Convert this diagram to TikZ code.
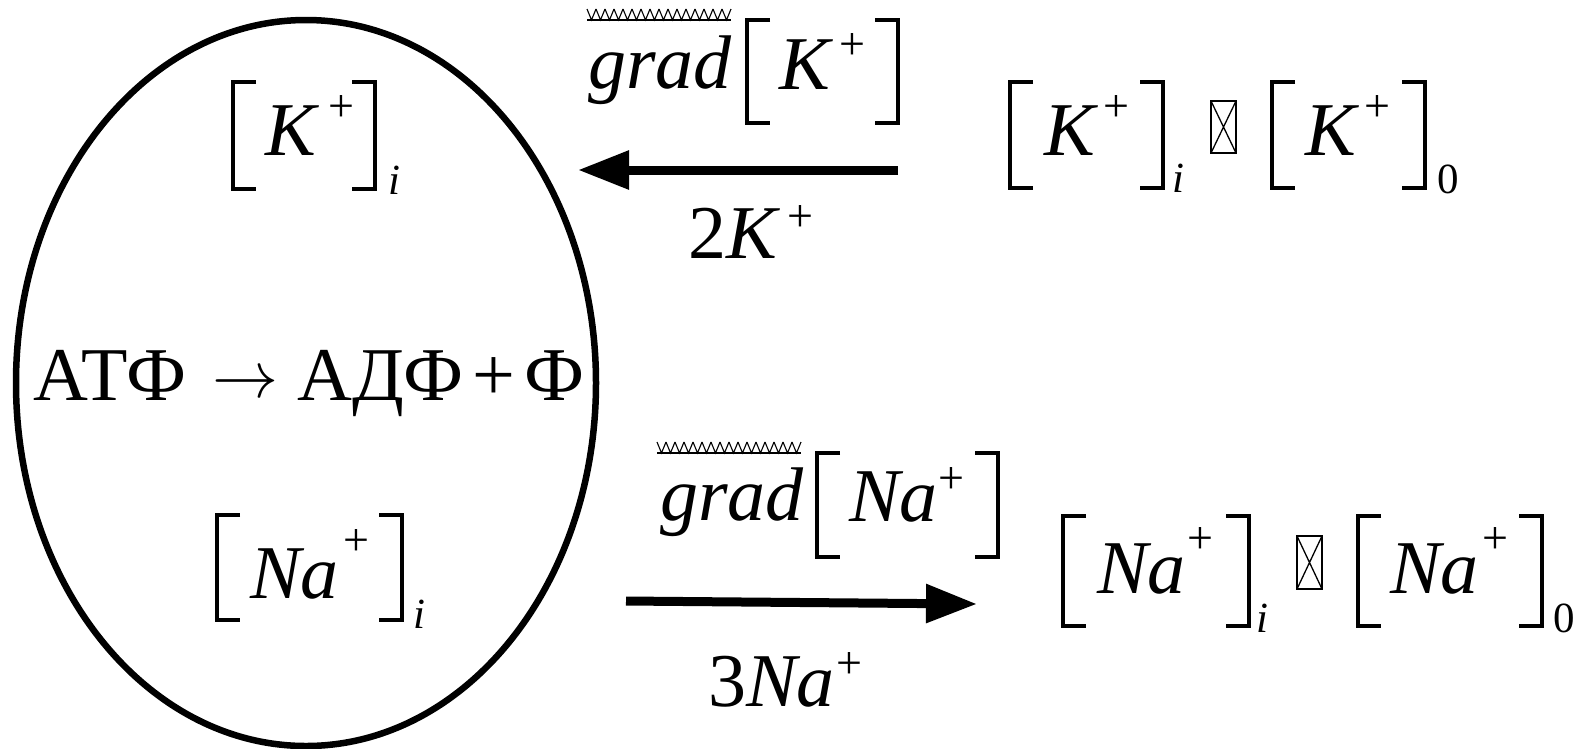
\RequirePackage{fix-cm}
\documentclass[tikz,border=0pt]{standalone}
\usepackage{fontspec}
\setmainfont{Liberation Serif}
\usetikzlibrary{arrows.meta}
\newcommand\bigf{\fontsize{76}{80}\selectfont}
\newcommand\arrf{\fontsize{66}{70}\selectfont}
\newcommand\supf{\fontsize{46}{46}\selectfont}
\newcommand\subf{\fontsize{43}{43}\selectfont}
\begin{document}
\begin{tikzpicture}[x=1pt,y=-1pt,
  txt/.style={font=\bigf,inner sep=0pt,anchor=base west},
  ctxt/.style={font=\bigf,inner sep=0pt,anchor=base},
  supnode/.style={font=\supf,inner sep=0pt,anchor=center},
  subnode/.style={font=\subf,inner sep=0pt,anchor=base west},
  brk/.style={line width=3.8pt,line cap=butt,line join=miter},
  bigarrow/.style={line width=9pt,-{Triangle[length=51pt,width=37pt]}},
  xbox/.style={line width=1.3pt},
  garbleline/.style={line width=1.1pt}]
\useasboundingbox (0,0) rectangle (1587,748);
% bracket pair: left x, right x, top y, bottom y
\newcommand\brpair[4]{%
  \draw[brk] ({#1+23},{#3}) -| ({#1},{#4}) -- ({#1+23},{#4});
  \draw[brk] ({#2-23},{#3}) -| ({#2},{#4}) -- ({#2-23},{#4});}
% crossed box (missing glyph)
\newcommand\xglyph[4]{%
  \draw[xbox] ({#1},{#3}) rectangle ({#2},{#4});
  \draw[xbox] ({#1},{#3}) -- ({#2},{#4}) ({#2},{#3}) -- ({#1},{#4});}
% garbled over-arrow glyphs
\newcommand\garble[3]{%
  \draw[garbleline] ({#1},{#3+11}) -- ({#2},{#3+11});
  \foreach \k in {0,...,15}{%
    \draw[garbleline] ({#1+9*\k},{#3}) -- ({#1+9*\k+4.5},{#3+11}) -- ({#1+9*\k+9},{#3});}}

% cell membrane
\draw[line width=6.5pt] (306,383) ellipse [x radius=290pt, y radius=363pt];

% inside: [K+]_i
\brpair{233}{375}{82}{189}
\node[txt] (ki) at (265,155) {\textit{K}};
\node[supnode] (kip) at (341,108) {+};
\node[subnode] (kii) at (388,194) {\textit{i}};

% inside: reaction
\node[txt] (atp) at (33,400) {АТФ};
\node[font=\arrf,inner sep=0pt,anchor=base] (rarr) at (245,397) {$\rightarrow$};
\node[txt] (adp) at (297,400) {АДФ};
\node[ctxt] (plus) at (494,400) {+};
\node[txt] (ph) at (524,400) {Ф};

% inside: [Na+]_i
\brpair{217}{402}{515}{620}
\node[txt] (nai) at (250,598) {\textit{Na}};
\node[supnode] (naip) at (356,542) {+};
\node[subnode] (naii) at (413,628) {\textit{i}};

% top gradient label
\garble{587}{731}{9}
\node[txt] (gradk) at (588,88) {\textit{grad}};
\brpair{747}{898}{20}{123}
\node[txt] (gk) at (779,89) {\textit{K}};
\node[supnode] (gkp) at (852,47) {+};

% top arrow (2K+ inward)
\coordinate (ka) at (898,170);
\coordinate (kb) at (578,170);
\draw[bigarrow] (ka) -- (kb);
\node[txt] (twok) at (688,258) {2\textit{K}};
\node[supnode] (twokp) at (800,218) {+};

% right top: [K+]_i >> [K+]_0
\brpair{1010}{1163}{82}{188}
\node[txt] (rk1) at (1044,155) {\textit{K}};
\node[supnode] (rk1p) at (1116,108) {+};
\node[subnode] (rk1i) at (1172,192) {\textit{i}};
\xglyph{1211}{1236}{101}{153}
\brpair{1272}{1425}{82}{188}
\node[txt] (rk2) at (1305,155) {\textit{K}};
\node[supnode] (rk2p) at (1377,108) {+};
\node[subnode] (rk20) at (1437,193) {0};

% bottom gradient label
\garble{657}{801}{442}
\node[txt] (gradna) at (660,520) {\textit{grad}};
\brpair{817}{998}{453}{557}
\node[txt] (gna) at (849,521) {\textit{Na}};
\node[supnode] (gnap) at (951,480) {+};

% bottom arrow (3Na+ outward)
\coordinate (na) at (626,601);
\coordinate (nb) at (977,604);
\draw[bigarrow] (na) -- (nb);
\node[txt] (threena) at (708,706) {3\textit{Na}};
\node[supnode] (threenap) at (849,665) {+};

% right bottom: [Na+]_i >> [Na+]_0
\brpair{1063}{1249}{516}{626}
\node[txt] (rn1) at (1097,593) {\textit{Na}};
\node[supnode] (rn1p) at (1200,540) {+};
\node[subnode] (rn1i) at (1256,632) {\textit{i}};
\xglyph{1297}{1322}{536}{589}
\brpair{1358}{1542}{516}{626}
\node[txt] (rn2) at (1390,593) {\textit{Na}};
\node[supnode] (rn2p) at (1495,540) {+};
\node[subnode] (rn20) at (1553,632) {0};
\end{tikzpicture}
\end{document}
